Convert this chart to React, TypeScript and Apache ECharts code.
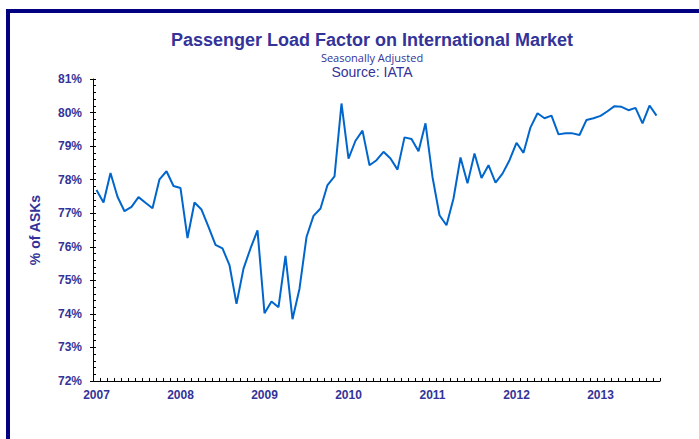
import React, { useEffect, useRef } from "react";
import * as echarts from "echarts";

const startYear = 2007;
const yearLabels = ["2007", "2008", "2009", "2010", "2011", "2012", "2013"];
const yTickLabels = ["72%", "73%", "74%", "75%", "76%", "77%", "78%", "79%", "80%", "81%"];

// Monthly passenger load factor (%), Jan 2007 – Sep 2013
const loadFactor = [
  77.69, 77.32, 78.2, 77.49, 77.06, 77.19, 77.48, 77.31, 77.15, 78.01, 78.25, 77.81,
  77.75, 76.26, 77.32, 77.11, 76.59, 76.06, 75.95, 75.45, 74.3, 75.35, 75.95, 76.49,
  74.02, 74.37, 74.2, 75.73, 73.84, 74.75, 76.29, 76.92, 77.14, 77.84, 78.1, 80.27,
  78.63, 79.16, 79.46, 78.43, 78.58, 78.83, 78.63, 78.3, 79.26, 79.21, 78.85, 79.68,
  78.08, 76.94, 76.64, 77.44, 78.66, 77.89, 78.78, 78.05, 78.43, 77.91, 78.18, 78.58,
  79.1, 78.8, 79.56, 79.98, 79.83, 79.91, 79.35, 79.38, 79.38, 79.33, 79.78, 79.83,
  79.9, 80.04, 80.19, 80.17, 80.07, 80.14, 79.68, 80.21, 79.91,
];

const categories = loadFactor.map((_, i) => {
  const y = startYear + Math.floor(i / 12);
  const m = (i % 12) + 1;
  return `${y}-${m < 10 ? "0" + m : m}`;
});

const NAVY = "#333399";
const ARIAL = "'Liberation Sans', Arial, sans-serif";

export default function App() {
  const ref = useRef<HTMLDivElement>(null);
  useEffect(() => {
    if (!ref.current) return;
    const chart = echarts.init(ref.current, null, { renderer: "svg" });
    chart.setOption({
      animation: false,
      backgroundColor: "#ffffff",
      grid: { left: 93, right: 39, top: 79, bottom: 58, containLabel: false },
      graphic: [
        {
          type: "rect",
          shape: { x: 8, y: 11, width: 900, height: 700 },
          style: { fill: "none", stroke: "#000080", lineWidth: 4 },
          silent: true,
        },
        {
          type: "text",
          x: 372,
          y: 40,
          style: {
            text: "Passenger Load Factor on International Market",
            fill: NAVY,
            font: `bold 18px ${ARIAL}`,
            textAlign: "center",
            textVerticalAlign: "middle",
          },
        },
        {
          type: "text",
          x: 372,
          y: 57,
          style: {
            text: "Seasonally Adjusted",
            fill: NAVY,
            font: "11px 'Open Sans', 'Noto Sans', sans-serif",
            textAlign: "center",
            textVerticalAlign: "middle",
          },
        },
        {
          type: "text",
          x: 372,
          y: 72,
          style: {
            text: "Source: IATA",
            fill: NAVY,
            font: `14px ${ARIAL}`,
            textAlign: "center",
            textVerticalAlign: "middle",
          },
        },
      ],
      xAxis: {
        type: "category",
        data: categories,
        boundaryGap: true,
        axisLine: { show: true, lineStyle: { color: "#000", width: 1 } },
        axisTick: { show: true, inside: true, interval: 0, length: 3, lineStyle: { color: "#000" } },
        axisLabel: {
          interval: (index: number) => index % 12 === 0,
          formatter: (_v: string, index: number) => yearLabels[Math.floor(index / 12)] ?? "",
          color: NAVY,
          fontWeight: "bold",
          fontSize: 12,
          fontFamily: ARIAL,
          margin: 8,
        },
        splitLine: { show: false },
      },
      yAxis: [
        {
          type: "value",
          min: 72,
          max: 81,
          interval: 1,
          name: "% of ASKs",
          nameLocation: "middle",
          nameGap: 51,
          nameTextStyle: {
            color: NAVY,
            fontWeight: "bold",
            fontSize: 14,
            fontFamily: ARIAL,
          },
          axisLine: { show: true, lineStyle: { color: "#000", width: 1 } },
          axisTick: { show: true, inside: true, length: 3, lineStyle: { color: "#000" } },
          minorTick: { show: true, splitNumber: 5, length: 3, lineStyle: { color: "#000" } },
          axisLabel: {
            formatter: (v: number) => yTickLabels[Math.round(v - 72)] ?? "",
            color: NAVY,
            fontWeight: "bold",
            fontSize: 12,
            fontFamily: ARIAL,
            margin: 11,
          },
          splitLine: { show: false },
        },
        {
          type: "value",
          position: "left",
          min: 72,
          max: 81,
          interval: 1,
          axisLine: { show: false },
          axisTick: { show: true, inside: false, length: 3, lineStyle: { color: "#000" } },
          axisLabel: { show: false },
          splitLine: { show: false },
        },
      ],
      series: [
        {
          type: "line",
          data: loadFactor,
          yAxisIndex: 0,
          showSymbol: false,
          symbol: "none",
          lineStyle: { color: "#0066CC", width: 2 },
        },
      ],
    });
    return () => chart.dispose();
  }, []);
  return (
    <div
      ref={ref}
      style={{ position: "fixed", left: 0, top: 0, width: 699, height: 439 }}
    />
  );
}
